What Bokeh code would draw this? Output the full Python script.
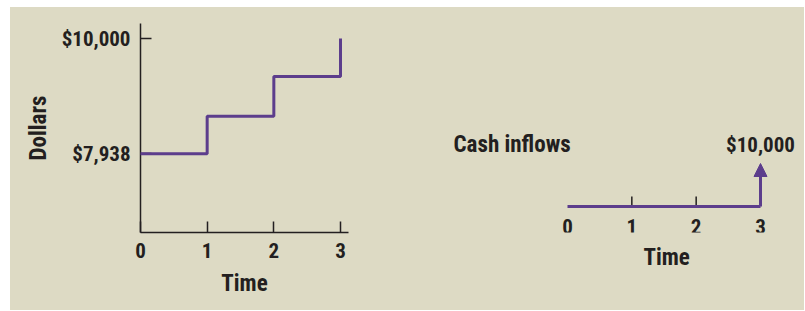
import math
from bokeh.plotting import figure
from bokeh.models import FixedTicker, Range1d, Arrow, NormalHead, Title
from bokeh.layouts import row
from bokeh.embed import file_html
from bokeh.resources import INLINE
from bokeh.core.properties import value

# ---- data ----
times = [0, 1, 2, 3]
time_labels = ["0", "1", "2", "3"]
pv_values = [7938, 8610, 9320, 10000]
y_ticks = [7938, 10000]
y_tick_labels = ["$7,938", "$10,000"]
cash_inflows = [0, 0, 0, 10000]
inflow_label = "$10,000"
timeline_ticks = [1, 2]

BG = "#dddac4"
PURPLE = "#5c3d8c"
INK = "#231f20"
FONT = "Roboto Condensed"
TICK_SIZE = "21px"
LABEL_SIZE = "23px"

BORDER_TOP = 16
BORDER_BOTTOM = 78
HEIGHT = 303

# ---- left chart ----
left = figure(width=410, height=HEIGHT, x_range=Range1d(0, 3.12), y_range=Range1d(6527, 10269),
              output_backend="svg", toolbar_location=None,
              min_border_left=130, min_border_right=72,
              min_border_top=BORDER_TOP, min_border_bottom=BORDER_BOTTOM)
left.background_fill_color = BG
left.border_fill_color = BG
left.outline_line_color = None
left.grid.visible = False

for ax in (left.xaxis[0], left.yaxis[0]):
    ax.axis_line_color = INK
    ax.axis_line_width = 1.5
    ax.major_tick_line_color = INK
    ax.major_tick_line_width = 1.5
    ax.major_tick_in = 11
    ax.major_tick_out = 0
    ax.minor_tick_line_color = None
    ax.major_label_text_font = FONT
    ax.major_label_text_font_style = "bold"
    ax.major_label_text_font_size = TICK_SIZE
    ax.major_label_text_color = INK
    ax.axis_label_text_font = FONT
    ax.axis_label_text_font_style = "bold"
    ax.axis_label_text_font_size = LABEL_SIZE
    ax.axis_label_text_color = INK

left.xaxis.ticker = FixedTicker(ticks=times)
left.xaxis.major_label_standoff = 10
left.xaxis.axis_label = "Time"
left.xaxis.axis_label_standoff = 9

left.yaxis.ticker = FixedTicker(ticks=y_ticks)
left.yaxis.major_label_overrides = {t: s for t, s in zip(y_ticks, y_tick_labels)}
left.yaxis.major_label_standoff = 10
left.yaxis.axis_label = "Dollars"
left.yaxis.axis_label_standoff = 7

left.step(times, pv_values, mode="after", line_color=PURPLE, line_width=3, level="overlay")

# ---- right chart ----
px_per_t = 193 / 3.0
dollars_per_px = 10000 / 43.0
right = figure(width=384, height=HEIGHT,
               x_range=Range1d(-147 / px_per_t, 237 / px_per_t),
               y_range=Range1d(-26 * dollars_per_px, 183 * dollars_per_px),
               output_backend="svg", toolbar_location=None,
               x_axis_location=None, y_axis_location=None,
               min_border_left=0, min_border_right=0,
               min_border_top=BORDER_TOP, min_border_bottom=BORDER_BOTTOM)
right.background_fill_color = BG
right.border_fill_color = BG
right.outline_line_color = None
right.grid.visible = False

# "Time" title under the timeline
right.add_layout(Title(text="Time", align="left", offset=223, standoff=19,
                       text_font=FONT, text_font_style="bold", text_font_size=LABEL_SIZE,
                       text_color=INK), "below")

txt = dict(text_font=value(FONT), text_font_style="bold", text_color=INK)

# timeline ticks and labels
right.ray(x=timeline_ticks, y=[0] * len(timeline_ticks), length=10, length_units="screen",
          angle=math.pi / 2, line_color=INK, line_width=1.5)
right.text(x=times, y=[0] * len(times), text=time_labels, text_align="center",
           text_baseline="top", y_offset=12, text_font_size=TICK_SIZE, **txt)

right.line([times[0], times[-1]], [0, 0], line_color=PURPLE, line_width=3, level="overlay")
right.add_layout(Arrow(end=NormalHead(size=13, fill_color=PURPLE, line_color=PURPLE),
                       x_start=times[-1], y_start=0, x_end=times[-1], y_end=cash_inflows[-1],
                       line_color=PURPLE, line_width=3))

right.text(x=[times[-1]], y=[cash_inflows[-1]], text=[inflow_label], text_align="center",
           text_baseline="alphabetic", y_offset=-19, text_font_size=TICK_SIZE, **txt)
right.text(x=[-114 / px_per_t], y=[cash_inflows[-1]], text=["Cash inflows"], text_align="left",
           text_baseline="alphabetic", y_offset=-19, text_font_size=LABEL_SIZE, **txt)

layout = row(left, right, margin=(7, 0, 0, 10), styles={"background-color": BG})
open("out.html", "w").write(file_html(layout, INLINE))
